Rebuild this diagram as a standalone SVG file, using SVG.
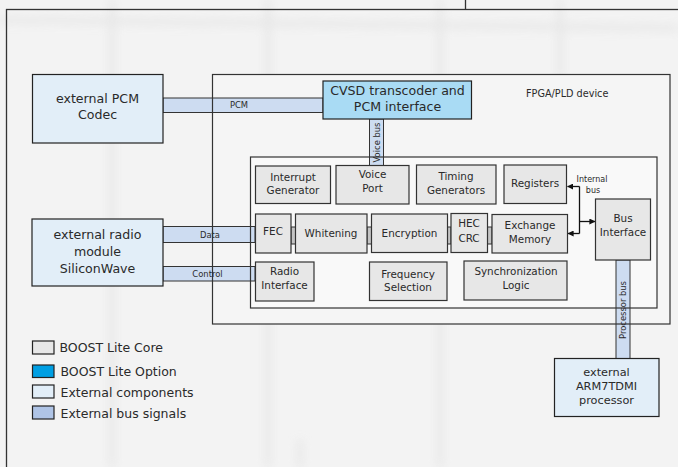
<svg xmlns="http://www.w3.org/2000/svg" width="678" height="467" viewBox="0 0 678 467">
  <defs>
    <style>
      text { font-family: "DejaVu Sans", "Liberation Sans", sans-serif; fill: #2a2a2a; }
      .big { font-size: 12.6px; text-anchor: middle; }
      .core-t { font-size: 10.4px; text-anchor: middle; }
      .ext-t { font-size: 11.3px; text-anchor: middle; }
      .bus-t { font-size: 8.4px; text-anchor: middle; }
      .leg-t { font-size: 12.5px; }
      .core { fill: #e7e7e7; stroke: #333; stroke-width: 1.2; }
      .ext { fill: #e2eef8; stroke: #222; stroke-width: 1.2; }
      .opt { fill: #a9dbf4; stroke: #222; stroke-width: 1.2; }
      .bus { fill: #cddcf1; stroke: #333; stroke-width: 1; }
      .link { fill: #c4c4c4; stroke: #333; stroke-width: 1; }
      .outline { fill: none; stroke: #333; stroke-width: 1.2; }
      .wire { fill: none; stroke: #111; stroke-width: 1.3; }
    </style>
    <marker id="head" viewBox="0 0 8 8" refX="7.5" refY="4" markerWidth="6" markerHeight="6" markerUnits="userSpaceOnUse" orient="auto">
      <path d="M0,0 L8,4 L0,8 Z" fill="#111"/>
    </marker>
    <filter id="soft" x="-50%" y="-50%" width="200%" height="200%">
      <feGaussianBlur stdDeviation="5"/>
    </filter>
  </defs>

  <!-- page background with faint blurred ruling -->
  <rect width="678" height="467" fill="#f3f3f3"/>
  <g filter="url(#soft)" stroke="#e4e4e4" stroke-width="6" opacity="0.8">
    <line x1="112" y1="0" x2="112" y2="467"/>
    <line x1="268" y1="0" x2="268" y2="467"/>
    <line x1="440" y1="0" x2="440" y2="467"/>
    <line x1="560" y1="0" x2="560" y2="80"/>
    <line x1="300" y1="440" x2="300" y2="467"/>
    <line x1="0" y1="20" x2="678" y2="28"/>
  </g>

  <!-- page frame -->
  <g id="frame">
    <rect x="6.5" y="9.5" width="700" height="480" fill="none" stroke="#333" stroke-width="1.3"/>
    <line x1="465.5" y1="0" x2="465.5" y2="9.5" stroke="#333" stroke-width="1.3"/>
  </g>

  <!-- container fills -->
  <g id="fpga">
    <rect x="212.5" y="74.5" width="457.5" height="249.5" fill="#f5f5f5"/>
    <text x="526" y="97" style="font-size:9.7px">FPGA/PLD device</text>
  </g>
  <g id="core">
    <rect x="250.5" y="157" width="406.5" height="151" fill="#f9f9f9"/>
  </g>

  <!-- connectors -->
  <g id="connectors">
    <!-- external bus bars -->
    <rect class="bus" x="163" y="98" width="160" height="14.5"/>
    <text class="bus-t" x="239" y="108.3">PCM</text>
    <rect class="bus" x="369.5" y="119" width="14" height="46.5"/>
    <text class="bus-t" transform="translate(379.5,142.5) rotate(-90)">Voice bus</text>
    <rect class="bus" x="163" y="226.5" width="92" height="16"/>
    <text class="bus-t" x="210" y="237.5">Data</text>
    <rect class="bus" x="163" y="266.5" width="92" height="14.5"/>
    <text class="bus-t" x="207.5" y="277">Control</text>
    <rect class="bus" x="616" y="260" width="14" height="98.5"/>
    <text class="bus-t" transform="translate(626,310) rotate(-90)">Processor bus</text>

    <!-- datapath links -->
    <rect class="link" x="291" y="227" width="4.5" height="17"/>
    <rect class="link" x="367" y="227" width="4.5" height="17"/>
    <rect class="link" x="447.5" y="227" width="3.5" height="17"/>
    <rect class="link" x="487.5" y="227" width="4.5" height="17"/>

    <!-- internal bus -->
    <line class="wire" x1="579.5" y1="186.5" x2="579.5" y2="233.5"/>
    <line class="wire" x1="579.5" y1="186.5" x2="567.5" y2="186.5" marker-end="url(#head)"/>
    <line class="wire" x1="579.5" y1="233.5" x2="568" y2="233.5" marker-end="url(#head)"/>
    <line class="wire" x1="579.5" y1="221.5" x2="595" y2="221.5" marker-end="url(#head)"/>
    <text x="592" y="181.7" style="font-size:8px;text-anchor:middle">Internal</text>
    <text x="593" y="192.7" style="font-size:8px;text-anchor:middle">bus</text>
  </g>

  <!-- container outlines drawn over the bus bars -->
  <rect class="outline" x="212.5" y="74.5" width="457.5" height="249.5"/>
  <rect class="outline" x="250.5" y="157" width="406.5" height="151"/>

  <!-- external components -->
  <g id="pcm-codec">
    <rect class="ext" x="32.5" y="74.5" width="130.5" height="68.5"/>
    <text class="big" x="97.5" y="103.3">external PCM</text>
    <text class="big" x="97.5" y="118.5">Codec</text>
  </g>
  <g id="radio-module">
    <rect class="ext" x="32" y="219" width="131" height="67"/>
    <text class="big" x="97.5" y="239">external radio</text>
    <text class="big" x="97.5" y="256">module</text>
    <text class="big" x="97.5" y="273">SiliconWave</text>
  </g>
  <g id="arm">
    <rect class="ext" x="554.5" y="358.5" width="104.5" height="58"/>
    <text class="ext-t" x="606.5" y="376">external</text>
    <text class="ext-t" x="606.5" y="390">ARM7TDMI</text>
    <text class="ext-t" x="606.5" y="404">processor</text>
  </g>

  <!-- option block -->
  <g id="cvsd">
    <rect class="opt" x="323" y="81" width="148.5" height="38"/>
    <text class="big" x="397.5" y="95">CVSD transcoder and</text>
    <text class="big" x="397.5" y="110.7">PCM interface</text>
  </g>

  <!-- core blocks -->
  <g id="interrupt-generator">
    <rect class="core" x="255.5" y="166" width="75" height="37.5"/>
    <text class="core-t" x="293" y="180.7">Interrupt</text>
    <text class="core-t" x="293" y="193.5">Generator</text>
  </g>
  <g id="voice-port">
    <rect class="core" x="336" y="165.5" width="73" height="38.5"/>
    <text class="core-t" x="372.5" y="178.3">Voice</text>
    <text class="core-t" x="372.5" y="192.3">Port</text>
  </g>
  <g id="timing-generators">
    <rect class="core" x="416.5" y="165" width="79.5" height="39"/>
    <text class="core-t" x="456" y="180">Timing</text>
    <text class="core-t" x="456" y="194">Generators</text>
  </g>
  <g id="registers">
    <rect class="core" x="504" y="165" width="62.5" height="38.5"/>
    <text class="core-t" x="535" y="187">Registers</text>
  </g>
  <g id="fec">
    <rect class="core" x="255.5" y="214" width="35.5" height="39"/>
    <text class="core-t" x="273" y="235">FEC</text>
  </g>
  <g id="whitening">
    <rect class="core" x="295.5" y="214" width="71.5" height="39"/>
    <text class="core-t" x="331" y="236.5">Whitening</text>
  </g>
  <g id="encryption">
    <rect class="core" x="371.5" y="214" width="76" height="38.5"/>
    <text class="core-t" x="409.5" y="236.5">Encryption</text>
  </g>
  <g id="hec-crc">
    <rect class="core" x="451" y="213.5" width="36.5" height="39"/>
    <text class="core-t" x="469" y="226.5">HEC</text>
    <text class="core-t" x="469" y="241.7">CRC</text>
  </g>
  <g id="exchange-memory">
    <rect class="core" x="492" y="214.5" width="75.5" height="38.5"/>
    <text class="core-t" x="530" y="228.5">Exchange</text>
    <text class="core-t" x="530" y="243">Memory</text>
  </g>
  <g id="bus-interface">
    <rect class="core" x="595.5" y="199" width="55" height="61"/>
    <text class="core-t" x="623" y="221.7">Bus</text>
    <text class="core-t" x="623" y="235.5">Interface</text>
  </g>
  <g id="radio-interface">
    <rect class="core" x="255.5" y="262" width="58.5" height="39"/>
    <text class="core-t" x="284.5" y="275">Radio</text>
    <text class="core-t" x="284.5" y="289.3">Interface</text>
  </g>
  <g id="frequency-selection">
    <rect class="core" x="369.5" y="262" width="77.5" height="38.5"/>
    <text class="core-t" x="408" y="278.3">Frequency</text>
    <text class="core-t" x="408" y="291">Selection</text>
  </g>
  <g id="synchronization-logic">
    <rect class="core" x="464" y="261" width="103" height="39"/>
    <text class="core-t" x="516" y="275">Synchronization</text>
    <text class="core-t" x="516" y="288.5">Logic</text>
  </g>

  <!-- legend -->
  <g id="legend">
    <rect x="32.5" y="341" width="21.5" height="13" fill="#e7e7e7" stroke="#222" stroke-width="1.2"/>
    <text class="leg-t" x="59.5" y="351.7">BOOST Lite Core</text>
    <rect x="32.5" y="365" width="21.5" height="12.5" fill="#009fe3" stroke="#222" stroke-width="1.2"/>
    <text class="leg-t" x="60.5" y="376">BOOST Lite Option</text>
    <rect x="32.5" y="385" width="21.5" height="13" fill="#e2eef8" stroke="#222" stroke-width="1.2"/>
    <text class="leg-t" x="60.5" y="396.7">External components</text>
    <rect x="32.5" y="406" width="21.5" height="13" fill="#afc4e6" stroke="#222" stroke-width="1.2"/>
    <text class="leg-t" x="60.5" y="418.3">External bus signals</text>
  </g>
</svg>
